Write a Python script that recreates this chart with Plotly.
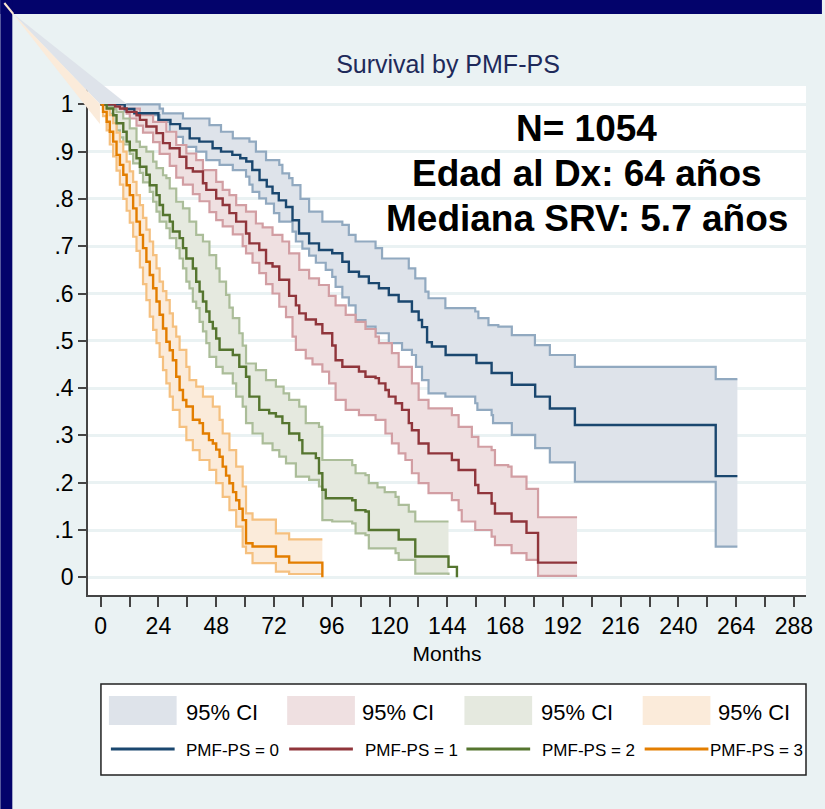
import plotly.graph_objects as go

# ---------------- data: Kaplan-Meier steps (months, survival) ----------------
# PMF-PS = 0
B_T = [0, 10, 14, 24, 29, 33, 37, 41, 46.5, 50, 54.7, 58, 60.5, 63, 66, 69, 71.4, 74, 77, 79.7,
       82.4, 86.6, 90.7, 96.2, 100.4, 103.1, 107.3, 111.4, 115.6, 119.7, 123.8, 129.3, 132.1, 133.5,
       135.6, 137.6, 143.3, 156.1, 162.4, 170.8, 180.5, 186.6, 197, 255.5, 264.5]
B_S = [1, 0.99, 0.981, 0.967, 0.958, 0.949, 0.928, 0.921, 0.907, 0.9, 0.893, 0.886, 0.879, 0.861, 0.840,
       0.826, 0.812, 0.797, 0.783, 0.755, 0.727, 0.706, 0.692, 0.685, 0.667, 0.646, 0.636, 0.622, 0.611,
       0.597, 0.583, 0.562, 0.544, 0.529, 0.497, 0.488, 0.470, 0.453, 0.432, 0.407, 0.382, 0.357, 0.322,
       0.214, 0.214]
BU_T = [0, 24.5, 25.9, 34.2, 45.2, 50, 54.9, 61.8, 64.5, 68.7, 74.2, 75.5, 78.3, 79.7, 83, 86.6, 92.1,
        100.4, 103.1, 105.9, 114.2, 116.9, 128, 130.7, 134.9, 136.2, 143.2, 155.6, 156.9, 161.1, 165.2,
        170.8, 180.4, 186.6, 197, 255.5, 264.5]
BU_S = [1, 0.991, 0.981, 0.970, 0.956, 0.942, 0.928, 0.921, 0.900, 0.882, 0.872, 0.854, 0.844, 0.829,
        0.800, 0.773, 0.752, 0.745, 0.724, 0.710, 0.696, 0.674, 0.653, 0.632, 0.604, 0.590, 0.569, 0.562,
        0.548, 0.533, 0.530, 0.512, 0.491, 0.470, 0.445, 0.419, 0.419]
BL_T = [0, 10, 16.3, 24.5, 28.7, 34.2, 39.7, 43.9, 49.4, 54.9, 60.4, 61.8, 63.1, 65.9, 68.7, 72, 74.2,
        79.7, 81.1, 83.8, 86.6, 89.4, 93.5, 96.2, 97.6, 100.4, 103.1, 105.9, 110, 114.2, 119.7, 125.2,
        129.3, 131, 133.5, 136.2, 143.2, 155.6, 156.5, 162.4, 163, 170.8, 180.5, 186.6, 197, 255.5, 264.5]
BL_S = [1, 0.985, 0.977, 0.963, 0.931, 0.910, 0.900, 0.882, 0.872, 0.861, 0.847, 0.830, 0.815, 0.801,
        0.790, 0.770, 0.752, 0.731, 0.710, 0.695, 0.680, 0.665, 0.650, 0.635, 0.614, 0.592, 0.575, 0.544,
        0.530, 0.516, 0.495, 0.481, 0.470, 0.445, 0.417, 0.389, 0.382, 0.368, 0.354, 0.343, 0.326, 0.301,
        0.273, 0.243, 0.202, 0.065, 0.065]

# PMF-PS = 1
R_T = [0, 6, 8, 10.8, 14.9, 16.3, 19, 23.2, 25.9, 28.7, 32.8, 35.6, 38.3, 42.5, 43.9, 48, 50.7, 53.5,
       56.3, 60.4, 61.8, 65.9, 68.7, 71.4, 74.2, 78.3, 81.1, 82.5, 85.2, 89.4, 92.1, 96.2, 97.6, 100.4,
       107.3, 110, 114.2, 115.6, 118.3, 119.7, 122.5, 125.2, 128, 129.3, 132.1, 136.2, 145.9, 148.7,
       155.6, 156.9, 162.4, 163.8, 170.7, 176.9, 181.7, 197.9]
R_S = [1, 0.995, 0.991, 0.984, 0.977, 0.967, 0.953, 0.939, 0.918, 0.907, 0.889, 0.865, 0.858, 0.833,
       0.819, 0.801, 0.787, 0.770, 0.752, 0.727, 0.706, 0.692, 0.664, 0.657, 0.629, 0.595, 0.575, 0.558,
       0.545, 0.535, 0.516, 0.490, 0.459, 0.445, 0.435, 0.424, 0.421, 0.410, 0.396, 0.382, 0.368, 0.354,
       0.326, 0.311, 0.283, 0.262, 0.248, 0.227, 0.195, 0.178, 0.156, 0.135, 0.118, 0.094, 0.031, 0.031]
RU_T = [0, 6, 9.4, 16.3, 21.8, 27.3, 31.4, 35.6, 39.7, 42.5, 48, 50.7, 53.5, 56.3, 60.4, 64.5, 67.3,
        71.4, 75.5, 78.3, 82.5, 86.6, 90.7, 94.8, 97.6, 101.8, 105.9, 110, 114.2, 115.6, 121, 123.8,
        129.3, 132.1, 136.2, 145.9, 148.7, 154.2, 156.9, 162.4, 163.8, 169.3, 170.7, 176.9, 181.7, 197.9]
RU_S = [1, 0.997, 0.991, 0.977, 0.963, 0.942, 0.914, 0.896, 0.882, 0.861, 0.836, 0.819, 0.808, 0.787,
        0.773, 0.748, 0.740, 0.724, 0.710, 0.685, 0.650, 0.632, 0.618, 0.595, 0.575, 0.555, 0.540, 0.525,
        0.509, 0.495, 0.474, 0.445, 0.410, 0.375, 0.357, 0.343, 0.318, 0.297, 0.276, 0.269, 0.237, 0.234,
        0.213, 0.187, 0.127, 0.127]
RL_T = [0, 8, 10.8, 12.1, 14.9, 17.6, 21.8, 24.5, 28.7, 31.4, 34.2, 38.3, 41.1, 45.2, 48, 50.7, 54.9,
        59, 60.4, 63.1, 65.9, 68.7, 71.4, 74.2, 77, 79.7, 81.1, 85.2, 88, 92.1, 94.9, 97.6, 101.8, 107.3,
        114.2, 118.3, 121, 123.8, 126.6, 129.3, 132.1, 136.2, 145.9, 148.7, 150, 155.6, 162.4, 163.8,
        170.7, 176.9, 181.7, 197.9]
RL_S = [1, 0.99, 0.98, 0.97, 0.955, 0.94, 0.92, 0.895, 0.87, 0.845, 0.83, 0.81, 0.795, 0.772, 0.755,
        0.742, 0.725, 0.70, 0.685, 0.665, 0.643, 0.62, 0.60, 0.572, 0.55, 0.509, 0.481, 0.463, 0.450,
        0.435, 0.410, 0.375, 0.354, 0.343, 0.333, 0.304, 0.283, 0.262, 0.248, 0.220, 0.199, 0.178, 0.163,
        0.142, 0.118, 0.100, 0.086, 0.068, 0.051, 0.037, 0.003, 0.003]

# PMF-PS = 2
G_T = [0, 2.5, 5.2, 6.6, 9.4, 10.8, 12.1, 14.9, 16.3, 19, 20.4, 23.2, 24.5, 25.9, 28.7, 30, 32.8, 34.2,
       35.6, 38.3, 39.7, 41.1, 42.5, 43.9, 45.2, 46.6, 48, 49.4, 54.9, 57.6, 60.4, 61.8, 65.9, 70, 72.8,
       75.5, 78.3, 82.5, 83.8, 89.4, 90.7, 92.1, 93.5, 104.5, 105.9, 110, 111.4, 123.8, 130.7, 144.5, 148]
G_S = [1, 0.991, 0.977, 0.960, 0.942, 0.921, 0.903, 0.886, 0.868, 0.851, 0.829, 0.808, 0.787, 0.766,
       0.752, 0.731, 0.717, 0.696, 0.674, 0.653, 0.625, 0.604, 0.583, 0.562, 0.540, 0.526, 0.505, 0.481,
       0.470, 0.445, 0.424, 0.382, 0.354, 0.347, 0.340, 0.326, 0.304, 0.290, 0.262, 0.252, 0.220, 0.185,
       0.167, 0.163, 0.142, 0.139, 0.100, 0.080, 0.044, 0.022, 0.0]
GU_T = [0, 2.5, 5.2, 6.6, 9.4, 12.1, 14.9, 16.3, 19, 21.8, 23.2, 25.9, 27.3, 28.7, 31.4, 34.2, 36.9,
        39.7, 42.5, 45.2, 48, 49.4, 52.1, 53.5, 54.9, 57.6, 59, 60.4, 64.5, 68.7, 72.8, 76, 78.3, 82.5,
        85.2, 90.7, 92.1, 104.5, 105.9, 110, 111.4, 115, 118, 122.5, 123.8, 128, 130.7, 144.5]
GU_S = [1, 0.995, 0.99, 0.984, 0.970, 0.949, 0.921, 0.91, 0.900, 0.879, 0.865, 0.85, 0.844, 0.822,
        0.794, 0.780, 0.752, 0.724, 0.710, 0.681, 0.653, 0.625, 0.597, 0.57, 0.548, 0.516, 0.49, 0.452,
        0.438, 0.417, 0.403, 0.389, 0.375, 0.361, 0.326, 0.318, 0.248, 0.237, 0.220, 0.216, 0.199, 0.19,
        0.18, 0.170, 0.153, 0.139, 0.118, 0.118]
GL_T = [0, 1, 2.5, 5.2, 6.6, 8, 9.4, 12.1, 13.5, 16.3, 17.6, 20.4, 21.8, 23.2, 24.5, 27.3, 28.7, 31.4,
        32.8, 34.2, 35.6, 36.9, 38.3, 39.7, 41.1, 42.5, 43.9, 45.2, 48, 50.7, 54.9, 56.3, 59, 60.4, 63.1,
        67.3, 71.4, 74.2, 77, 81.1, 86.6, 90.7, 92.1, 96.2, 104.5, 105.9, 110, 111.4, 122.5, 123.8,
        130.7, 144.5]
GL_S = [1, 0.99, 0.98, 0.96, 0.945, 0.93, 0.915, 0.895, 0.875, 0.855, 0.835, 0.815, 0.794, 0.773,
        0.752, 0.738, 0.717, 0.696, 0.674, 0.653, 0.625, 0.611, 0.583, 0.569, 0.540, 0.520, 0.495, 0.466,
        0.445, 0.431, 0.410, 0.382, 0.361, 0.326, 0.304, 0.283, 0.269, 0.255, 0.241, 0.213, 0.206, 0.192,
        0.121, 0.118, 0.114, 0.093, 0.089, 0.061, 0.051, 0.037, 0.008, 0.005]

# PMF-PS = 3
O_T = [0, 1, 2.5, 3.8, 5.2, 6.6, 8, 9.4, 10.8, 12.1, 13.5, 14.9, 16.3, 17.6, 19, 20.4, 21.8, 23.2, 24.5,
       25.9, 27.3, 28.7, 30, 31.4, 32.8, 34.2, 35.6, 38.3, 41.1, 42.5, 45, 46.6, 48, 49.4, 50.7, 52.1,
       53.5, 55, 56.3, 57.6, 59, 60.4, 63.1, 72.8, 78.3, 92.1]
O_S = [1, 0.984, 0.963, 0.942, 0.921, 0.893, 0.872, 0.851, 0.829, 0.808, 0.780, 0.752, 0.724, 0.696,
       0.667, 0.639, 0.611, 0.583, 0.555, 0.526, 0.498, 0.480, 0.459, 0.424, 0.396, 0.375, 0.361, 0.333,
       0.326, 0.304, 0.290, 0.283, 0.270, 0.255, 0.234, 0.215, 0.199, 0.180, 0.163, 0.145, 0.121, 0.072,
       0.065, 0.044, 0.031, 0.0]
OU_T = [0, 2.5, 3.8, 5.2, 6.6, 8, 9.4, 10.8, 12.1, 13.5, 14.9, 16.3, 17.6, 19, 20.4, 21.8, 23.2, 24.5,
        25.9, 27.3, 28.7, 30, 31.4, 32.8, 35.6, 36.9, 39.7, 42.5, 46.6, 49.4, 50.7, 53.5, 56.3, 59, 60.4,
        63.1, 72.8, 78.3, 92.1]
OU_S = [1, 0.99, 0.977, 0.96, 0.94, 0.921, 0.9, 0.879, 0.858, 0.836, 0.808, 0.787, 0.76, 0.735, 0.71,
        0.681, 0.653, 0.625, 0.605, 0.586, 0.558, 0.530, 0.509, 0.481, 0.445, 0.417, 0.403, 0.382, 0.361,
        0.333, 0.304, 0.269, 0.234, 0.192, 0.135, 0.122, 0.093, 0.080, 0.080]
OL_T = [0, 1, 2.5, 3.8, 5.2, 6.6, 8, 9.4, 10.8, 12.1, 13.5, 14.9, 16.3, 17.6, 19, 20.4, 21.8, 23.2,
        24.5, 25.9, 27.3, 28.7, 30, 32.8, 35.6, 38.3, 41.1, 45.2, 48, 50.7, 53.5, 56.3, 59, 60.4, 63.1,
        72.8, 78.3, 92.1]
OL_S = [1, 0.975, 0.945, 0.915, 0.89, 0.86, 0.83, 0.80, 0.775, 0.75, 0.72, 0.69, 0.655, 0.62, 0.586,
        0.551, 0.523, 0.495, 0.466, 0.438, 0.410, 0.382, 0.354, 0.318, 0.290, 0.269, 0.248, 0.227, 0.199,
        0.170, 0.142, 0.107, 0.065, 0.051, 0.030, 0.012, 0.007, 0.007]

GROUPS = ["PMF-PS = 0", "PMF-PS = 1", "PMF-PS = 2", "PMF-PS = 3"]
CI_LABEL = "95% CI"
X_TICKS = [0, 24, 48, 72, 96, 120, 144, 168, 192, 216, 240, 264, 288]
Y_TICKS = [0, 0.1, 0.2, 0.3, 0.4, 0.5, 0.6, 0.7, 0.8, 0.9, 1.0]
Y_TEXT = ["0", ".1", ".2", ".3", ".4", ".5", ".6", ".7", ".8", ".9", "1"]
INFO = ["N= 1054", "Edad al Dx: 64 años", "Mediana SRV: 5.7 años"]
MEDIAN_REF = 0.5

# ---------------- styling ----------------
LINE_COL = ["#1a476f", "#90353b", "#55752f", "#e37e00"]
FILL_COL = ["#dee3ea", "#efe0e1", "#e5e9df", "#fbebda"]
EDGE_COL = ["#91a9c0", "#d29ea3", "#abbd99", "#f5c07f"]
NAVY = "#03036b"
REGION = "#eaf2f3"
SANS = "Liberation Sans, Arial, sans-serif"

W, H = 825, 809
ML, MR, MT, MB = 88, 16, 86, 214
PW, PH = W - ML - MR, H - MT - MB


def fx(px):
    return (px - ML) / PW


def fy(py):
    return (H - MB - py) / PH


def stairs(t, s):
    xs, ys = [t[0]], [s[0]]
    for i in range(1, len(t)):
        xs += [t[i], t[i]]
        ys += [s[i - 1], s[i]]
    return xs, ys


fig = go.Figure()

bands = [(BU_T, BU_S, BL_T, BL_S), (RU_T, RU_S, RL_T, RL_S),
         (GU_T, GU_S, GL_T, GL_S), (OU_T, OU_S, OL_T, OL_S)]
curves = [(B_T, B_S), (R_T, R_S), (G_T, G_S), (O_T, O_S)]

# confidence bands: filled area plus its two outlines
for k, (ut, us, lt, ls) in enumerate(bands):
    ux, uy = stairs(ut, us)
    lx, ly = stairs(lt, ls)
    fig.add_trace(go.Scatter(x=ux + lx[::-1], y=uy + ly[::-1], fill="toself", mode="lines",
                             fillcolor=FILL_COL[k], line=dict(width=0), showlegend=False,
                             hoverinfo="skip", name=CI_LABEL))
    for xs, ys in ((ux, uy), (lx, ly)):
        fig.add_trace(go.Scatter(x=xs, y=ys, mode="lines", showlegend=False, hoverinfo="skip",
                                 line=dict(color=EDGE_COL[k], width=2.2)))

# survival estimates
for k, (t, s) in enumerate(curves):
    fig.add_trace(go.Scatter(x=t, y=s, mode="lines", line_shape="hv", name=GROUPS[k],
                             line=dict(color=LINE_COL[k], width=2.4), showlegend=False))

shapes = []
# reference line at median survival
shapes.append(dict(type="line", xref="paper", yref="y", x0=0, x1=1, y0=MEDIAN_REF, y1=MEDIAN_REF,
                   line=dict(color="#c8102e", width=2.5), layer="between"))
# slide frame
shapes.append(dict(type="rect", xref="paper", yref="paper", x0=fx(0), x1=fx(W), y0=fy(14), y1=fy(0),
                   fillcolor=NAVY, line=dict(width=0), layer="below"))
shapes.append(dict(type="rect", xref="paper", yref="paper", x0=fx(0), x1=fx(12), y0=fy(H), y1=fy(0),
                   fillcolor=NAVY, line=dict(width=0), layer="below"))
# wedge streaks from the frame corner
shapes.append(dict(type="path", xref="paper", yref="paper",
                   path=f"M{fx(12)},{fy(13)} L{fx(127)},{fy(104)} L{fx(100)},{fy(104)} Z",
                   fillcolor=FILL_COL[0], line=dict(width=0), layer="above"))
shapes.append(dict(type="path", xref="paper", yref="paper",
                   path=f"M{fx(12)},{fy(13)} L{fx(100)},{fy(104)} L{fx(100)},{fy(124)} Z",
                   fillcolor=FILL_COL[3], line=dict(width=0), layer="above"))
shapes.append(dict(type="line", xref="paper", yref="paper", x0=fx(4), y0=fy(3), x1=fx(13), y1=fy(14),
                   line=dict(color="#fbe6cf", width=2), layer="above"))

# legend box
shapes.append(dict(type="rect", xref="paper", yref="paper", x0=fx(101), x1=fx(809), y0=fy(775),
                   y1=fy(684), fillcolor="white", line=dict(color="#222222", width=1.5), layer="below"))

annotations = []
col_x = [109, 288, 466, 645]
ci_text_x = [186, 363, 543, 721]
ln_text_x = [186, 366, 544, 713]
for k in range(4):
    x0 = col_x[k]
    shapes.append(dict(type="rect", xref="paper", yref="paper", x0=fx(x0), x1=fx(x0 + 68),
                       y0=fy(725), y1=fy(696), fillcolor=FILL_COL[k], line=dict(width=0), layer="below"))
    shapes.append(dict(type="line", xref="paper", yref="paper", x0=fx(x0 + 2), x1=fx(x0 + 66),
                       y0=fy(749), y1=fy(749), line=dict(color=LINE_COL[k], width=3), layer="below"))
    annotations.append(dict(xref="paper", yref="paper", x=fx(ci_text_x[k] - 2), y=fy(712), text=CI_LABEL,
                            showarrow=False, xanchor="left", yanchor="middle",
                            font=dict(family=SANS, size=22, color="black")))
    annotations.append(dict(xref="paper", yref="paper", x=fx(ln_text_x[k] - 2), y=fy(750), text=GROUPS[k],
                            showarrow=False, xanchor="left", yanchor="middle",
                            font=dict(family=SANS, size=17, color="black")))

for line, yc in zip(INFO, [128, 173, 218]):
    annotations.append(dict(xref="paper", yref="paper", x=fx(589), y=fy(yc), text=f"<b>{line}</b>",
                            showarrow=False, xanchor="center", yanchor="middle",
                            font=dict(family=SANS, size=37, color="black")))

fig.update_layout(
    width=W, height=H,
    margin=dict(l=ML, r=MR, t=MT, b=MB, pad=0),
    paper_bgcolor=REGION, plot_bgcolor="white",
    showlegend=False,
    title=dict(text="Survival by PMF-PS", xref="container", x=448 / W, xanchor="center",
               yref="container", y=1 - 64 / H, yanchor="middle",
               font=dict(family=SANS, size=25, color="#1e2a5a")),
    shapes=shapes, annotations=annotations,
    xaxis=dict(range=[-5.25, 293], tickvals=X_TICKS, ticktext=[str(v) for v in X_TICKS],
               showgrid=False, zeroline=False, showline=True, linecolor="#444444", linewidth=1.5,
               ticks="outside", ticklen=10, tickwidth=1.5, tickcolor="#444444",
               minor=dict(dtick=12, tick0=0, ticks="outside", ticklen=10, tickwidth=1.5,
                          tickcolor="#444444", showgrid=False),
               tickfont=dict(family=SANS, size=23, color="black"),
               title=dict(text="Months", font=dict(family=SANS, size=21, color="black"), standoff=8)),
    yaxis=dict(range=[-0.0374, 1.0387], tickvals=Y_TICKS, ticktext=Y_TEXT,
               showgrid=True, gridcolor=REGION, gridwidth=2.5, zeroline=False,
               showline=True, linecolor="#444444", linewidth=1.5,
               ticks="outside", ticklen=8, tickwidth=1.5, tickcolor="#444444",
               tickfont=dict(family=SANS, size=23, color="black")),
)

fig.write_html("out.html")
